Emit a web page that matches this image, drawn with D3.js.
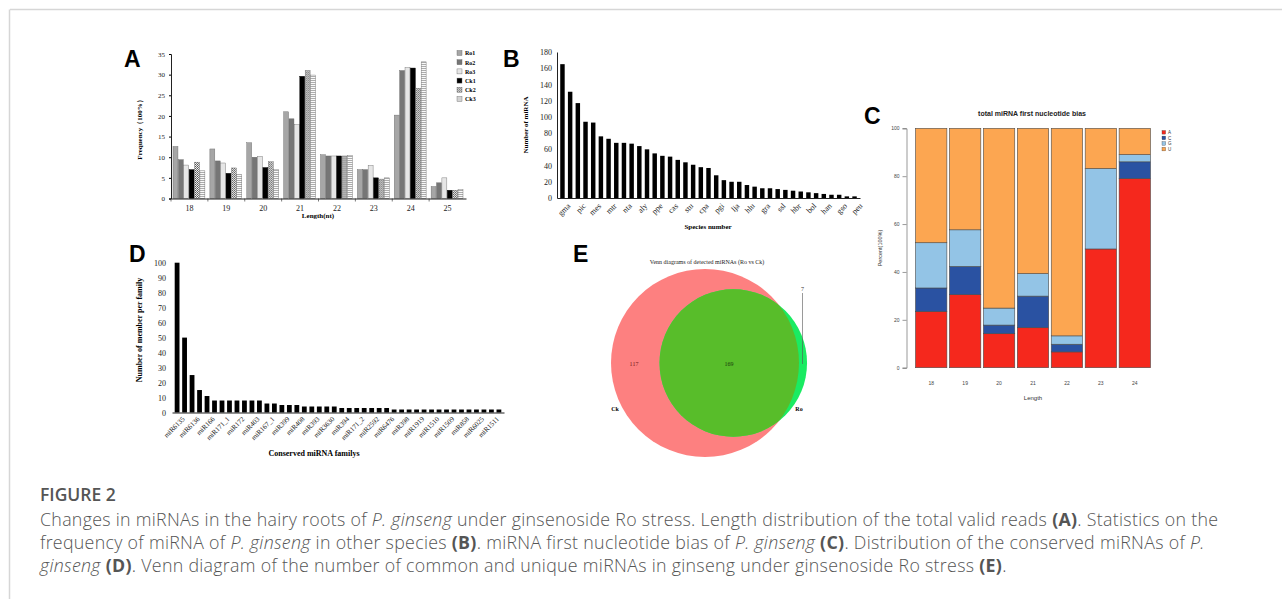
<!DOCTYPE html>
<html>
<head>
<meta charset="utf-8">
<script src="https://cdn.jsdelivr.net/npm/d3@7"></script>
<style>
  html, body { margin: 0; padding: 0; background: #fff; }
  svg { display: block; }
</style>
</head>
<body>
<div id="chart"></div>
<script>
var width  = 1282;
var height = 599;

// ---- data ----
// A: length distribution
var lengthsA = ["18", "19", "20", "21", "22", "23", "24", "25"];
var samplesA = ["Ro1", "Ro2", "Ro3", "Ck1", "Ck2", "Ck3"];
var ro1 = [12.6, 12.0, 13.5, 21.0, 10.6, 7.0, 20.2, 2.9];
var ro2 = [9.4, 9.1, 10.0, 19.3, 10.3, 7.0, 31.0, 3.8];
var ro3 = [8.1, 8.6, 10.2, 17.9, 10.3, 8.0, 31.7, 5.0];
var ck1 = [7.0, 6.1, 7.5, 29.6, 10.3, 5.0, 31.6, 2.0];
var ck2 = [8.8, 7.4, 8.9, 31.0, 10.3, 4.7, 26.7, 2.0];
var ck3 = [6.7, 5.8, 7.0, 29.9, 10.4, 5.0, 33.1, 2.2];
var ticksA = [0, 5, 10, 15, 20, 25, 30, 35];

// B: miRNA per species (only every other species is labelled)
var speciesLabels = ["gma", "pic", "mes", "mtr", "nta", "aly", "ppe", "cas", "stu", "cpa",
                     "pgi", "lja", "hlu", "gra", "ssl", "hbr", "bol", "han", "gso", "peu"];
var speciesCounts = [165, 131, 117, 94, 93, 76, 73, 68, 68, 67, 64, 60, 55, 52, 51, 47, 44, 41, 38, 37,
                     28, 22, 20, 20, 16, 14, 12, 12, 11, 10, 9, 8, 7, 6, 5, 4, 4, 2, 2];
var ticksB = [0, 20, 40, 60, 80, 100, 120, 140, 160, 180];

// C: first nucleotide bias
var lengthsC = ["18", "19", "20", "21", "22", "23", "24"];
var nucleotides = ["A", "C", "G", "U"];
var pctA = [23.5, 30.5, 14.2, 16.7, 6.6, 49.6, 79.0];
var pctC = [9.8, 11.8, 3.6, 13.2, 3.2, 0, 7.0];
var pctG = [18.9, 15.3, 7.1, 9.4, 3.5, 33.6, 3.0];
var pctU = [47.8, 42.4, 75.1, 60.7, 86.7, 16.8, 11.0];
var ticksC = [0, 20, 40, 60, 80, 100];

// D: conserved families (every other family labelled)
var familyLabels = ["miR6135", "miR6136", "miR166", "miR171_1", "miR172", "miR403", "miR167_1",
                    "miR399", "miR408", "miR393", "miR3630", "miR394", "miR171_2", "miR2592",
                    "miR6476", "miR398", "miR1919", "miR1510", "miR1509", "miR858", "miR6025", "miR1511"];
var familyCounts = [100, 50, 25, 15, 11, 8, 8, 8, 8, 8, 8, 8, 6, 6, 5, 5, 5, 4, 4, 4, 4, 4,
                    3, 3, 3, 3, 3, 3, 3, 2, 2, 2, 2, 2, 2, 2, 2, 2, 2, 2, 2, 2, 2, 2];
var ticksD = [0, 10, 20, 30, 40, 50, 60, 70, 80, 90, 100];

// E: venn
var vennSets = ["Ck", "Ro"];
var onlyCk = 117, shared = 169, onlyRo = 7;

var serif = "'Liberation Serif', 'Times New Roman', serif";
var sans  = "'Liberation Sans', Arial, sans-serif";

var svg = d3.select("#chart")
    .append("svg")
    .attr("width", width)
    .attr("height", height);

var defs = svg.append("defs");

// frame
svg.append("line").attr("x1", 10).attr("y1", 9.5).attr("x2", width).attr("y2", 9.5)
  .attr("stroke", "#d6d6d6").attr("stroke-width", 1.5);
svg.append("line").attr("x1", 9.5).attr("y1", 9.5).attr("x2", 9.5).attr("y2", height)
  .attr("stroke", "#d6d6d6").attr("stroke-width", 1.5);

function panelLetter(txt, x, y) {
  svg.append("text").attr("x", x).attr("y", y).text(txt)
    .style("font-family", sans).style("font-weight", "bold").style("font-size", "23px")
    .attr("fill", "#000");
}

drawA();
drawB();
drawC();
drawD();
drawE();
drawCaption();

function drawA() {
  panelLetter("A", 124, 67);

  // patterns for Ck2 / Ck3
  var p1 = defs.append("pattern").attr("id", "checker").attr("width", 2).attr("height", 2)
    .attr("patternUnits", "userSpaceOnUse");
  p1.append("rect").attr("width", 2).attr("height", 2).attr("fill", "#eee");
  p1.append("rect").attr("width", 1).attr("height", 1).attr("fill", "#555");
  p1.append("rect").attr("x", 1).attr("y", 1).attr("width", 1).attr("height", 1).attr("fill", "#777");
  var p2 = defs.append("pattern").attr("id", "hstripe").attr("width", 3).attr("height", 2)
    .attr("patternUnits", "userSpaceOnUse");
  p2.append("rect").attr("width", 3).attr("height", 2).attr("fill", "#fafafa");
  p2.append("rect").attr("width", 3).attr("height", 0.8).attr("fill", "#999");

  var fills = {Ro1: "#a6a6a6", Ro2: "#767676", Ro3: "#e6e6e6", Ck1: "#000", Ck2: "url(#checker)", Ck3: "url(#hstripe)"};
  var series = {Ro1: ro1, Ro2: ro2, Ro3: ro3, Ck1: ck1, Ck2: ck2, Ck3: ck3};

  var x = d3.scaleBand().domain(lengthsA).range([171, 466]);
  var xs = d3.scaleBand().domain(samplesA).range([2, x.bandwidth() - 3]).paddingInner(0.08);
  var y = d3.scaleLinear().domain([0, 35]).range([198.5, 54]);

  var g = svg.append("g");

  var groups = g.selectAll("g.grp").data(lengthsA).enter().append("g")
    .attr("transform", function(d) { return "translate(" + x(d) + ",0)"; });

  groups.selectAll("rect")
    .data(function(d, i) { return samplesA.map(function(s) { return {s: s, v: series[s][i]}; }); })
    .enter().append("rect")
    .attr("x", function(d) { return xs(d.s); })
    .attr("y", function(d) { return y(d.v); })
    .attr("width", xs.bandwidth())
    .attr("height", function(d) { return y(0) - y(d.v); })
    .attr("fill", function(d) { return fills[d.s]; })
    .attr("stroke", function(d) { return d.s == "Ck1" ? "#000" : "#666"; })
    .attr("stroke-width", 0.4);

  var ya = g.append("g").attr("transform", "translate(171,0)")
    .call(d3.axisLeft(y).tickValues(ticksA).tickSize(2).tickPadding(4));
  ya.selectAll("text").style("font-family", serif).style("font-size", "7px").attr("fill", "#222");
  ya.select(".domain").attr("stroke", "#222");

  var xa = g.append("g").attr("transform", "translate(0,198.5)")
    .call(d3.axisBottom(x).tickSize(0).tickPadding(7));
  xa.selectAll("text").style("font-family", serif).style("font-size", "8px").attr("fill", "#222");
  xa.select(".domain").attr("stroke", "#222");
  // separator ticks between groups
  g.selectAll("line.sep").data(lengthsA).enter().append("line")
    .attr("x1", function(d) { return x(d); }).attr("x2", function(d) { return x(d); })
    .attr("y1", 198.5).attr("y2", 201.5).attr("stroke", "#222").attr("stroke-width", 0.6);

  g.append("text").attr("transform", "translate(142,128) rotate(-90)")
    .attr("text-anchor", "middle").text("Frequency（100%）")
    .style("font-family", serif).style("font-weight", "bold").style("font-size", "7px");
  g.append("text").attr("x", 318).attr("y", 218).attr("text-anchor", "middle").text("Length(nt)")
    .style("font-family", serif).style("font-weight", "bold").style("font-size", "7px");

  var leg = g.selectAll("g.leg").data(samplesA).enter().append("g")
    .attr("transform", function(d, i) { return "translate(457," + (50.5 + i * 9.2) + ")"; });
  leg.append("rect").attr("width", 5).attr("height", 5)
    .attr("fill", function(d) { return fills[d]; }).attr("stroke", "#666").attr("stroke-width", 0.4);
  leg.append("text").attr("x", 8).attr("y", 4.8).text(function(d) { return d; })
    .style("font-family", serif).style("font-weight", "bold").style("font-size", "6px");
}

function drawB() {
  panelLetter("B", 503, 67);

  var idx = d3.range(speciesCounts.length);
  var x = d3.scaleBand().domain(idx).range([557, 860]).padding(0.42);
  var y = d3.scaleLinear().domain([0, 180]).range([198, 52]);
  var g = svg.append("g");

  g.selectAll("rect").data(speciesCounts).enter().append("rect")
    .attr("x", function(d, i) { return x(i); })
    .attr("y", function(d) { return y(d); })
    .attr("width", x.bandwidth())
    .attr("height", function(d) { return y(0) - y(d); })
    .attr("fill", "#000");

  var ya = g.append("g").attr("transform", "translate(557,0)")
    .call(d3.axisLeft(y).tickValues(ticksB).tickSize(0).tickPadding(5));
  ya.selectAll("text").style("font-family", serif).style("font-size", "8px").attr("fill", "#222");
  ya.select(".domain").attr("stroke", "#222");

  var xa = g.append("g").attr("transform", "translate(0,198)")
    .call(d3.axisBottom(x).tickValues(idx.filter(function(i) { return i % 2 == 0; }))
      .tickSize(0).tickFormat(function(i) { return speciesLabels[i / 2]; }));
  xa.select(".domain").attr("stroke", "#222");
  xa.selectAll("text")
    .style("font-family", serif).style("font-size", "8px").attr("fill", "#222")
    .attr("text-anchor", "end")
    .attr("transform", "translate(3,3) rotate(-45)")
    .attr("dy", "0.6em");

  g.append("text").attr("transform", "translate(528,125) rotate(-90)")
    .attr("text-anchor", "middle").text("Number of miRNA")
    .style("font-family", serif).style("font-weight", "bold").style("font-size", "7px");
  g.append("text").attr("x", 708).attr("y", 229).attr("text-anchor", "middle").text("Species number")
    .style("font-family", serif).style("font-weight", "bold").style("font-size", "7px");
}

function drawC() {
  panelLetter("C", 864, 124);

  var colors = {A: "#f5281d", C: "#2a52a2", G: "#93c4e6", U: "#fca651"};
  var table = lengthsC.map(function(l, i) {
    return {len: l, A: pctA[i], C: pctC[i], G: pctG[i], U: pctU[i]};
  });
  var stacked = d3.stack().keys(nucleotides)(table);

  var x = d3.scaleBand().domain(lengthsC).range([915.5, 1150.5]).paddingInner(0.075);
  var y = d3.scaleLinear().domain([0, 100]).range([367.7, 128.3]);
  var g = svg.append("g");

  g.selectAll("g.layer").data(stacked).enter().append("g")
    .attr("fill", function(d) { return colors[d.key]; })
    .selectAll("rect").data(function(d) { return d; }).enter().append("rect")
    .attr("x", function(d) { return x(d.data.len); })
    .attr("y", function(d) { return y(d[1]); })
    .attr("width", x.bandwidth())
    .attr("height", function(d) { return y(d[0]) - y(d[1]); })
    .attr("stroke", "#4a4a4a").attr("stroke-width", 0.6);

  var ya = g.append("g").attr("transform", "translate(906.5,0)")
    .call(d3.axisLeft(y).tickValues(ticksC).tickSize(4).tickPadding(3));
  ya.selectAll("text").style("font-family", sans).style("font-size", "5px").attr("fill", "#444");
  ya.selectAll("line, .domain").attr("stroke", "#555").attr("stroke-width", 0.6);

  var xa = g.append("g").attr("transform", "translate(0,378)")
    .call(d3.axisBottom(x).tickSize(0).tickPadding(3));
  xa.select(".domain").remove();
  xa.selectAll("text").style("font-family", sans).style("font-size", "5px").attr("fill", "#444");

  g.append("text").attr("x", 1032).attr("y", 116).attr("text-anchor", "middle")
    .text("total miRNA first nucleotide bias")
    .style("font-family", sans).style("font-weight", "bold").style("font-size", "7px").attr("fill", "#222");
  g.append("text").attr("x", 1033).attr("y", 400).attr("text-anchor", "middle").text("Length")
    .style("font-family", sans).style("font-size", "6px").attr("fill", "#333");
  g.append("text").attr("transform", "translate(882,248) rotate(-90)")
    .attr("text-anchor", "middle").text("Percent(100%)")
    .style("font-family", sans).style("font-size", "5.5px").attr("fill", "#333");

  var leg = g.selectAll("g.leg").data(nucleotides).enter().append("g")
    .attr("transform", function(d, i) { return "translate(1162," + (130.5 + i * 5.6) + ")"; });
  leg.append("rect").attr("width", 3.6).attr("height", 3.6)
    .attr("fill", function(d) { return colors[d]; }).attr("stroke", "#333").attr("stroke-width", 0.3);
  leg.append("text").attr("x", 6).attr("y", 3.5).text(function(d) { return d; })
    .style("font-family", sans).style("font-size", "4.5px").attr("fill", "#333");
}

function drawD() {
  panelLetter("D", 129, 262);

  var idx = d3.range(familyCounts.length);
  var x = d3.scaleBand().domain(idx).range([172, 504]).padding(0.36);
  var y = d3.scaleLinear().domain([0, 100]).range([412.5, 262.7]);
  var g = svg.append("g");

  g.selectAll("rect").data(familyCounts).enter().append("rect")
    .attr("x", function(d, i) { return x(i); })
    .attr("y", function(d) { return y(d); })
    .attr("width", x.bandwidth())
    .attr("height", function(d) { return y(0) - y(d); })
    .attr("fill", "#000");

  var ya = g.append("g").attr("transform", "translate(172,0)")
    .call(d3.axisLeft(y).tickValues(ticksD).tickSize(0).tickPadding(6));
  ya.selectAll("text").style("font-family", serif).style("font-size", "8px").attr("fill", "#222");
  ya.select(".domain").remove();

  var xa = g.append("g").attr("transform", "translate(0,412.5)")
    .call(d3.axisBottom(x).tickValues(idx.filter(function(i) { return i % 2 == 0; }))
      .tickSize(0).tickFormat(function(i) { return familyLabels[i / 2]; }));
  xa.select(".domain").attr("stroke", "#222").attr("stroke-width", 1.2);
  xa.selectAll("text")
    .style("font-family", serif).style("font-size", "7px").attr("fill", "#222")
    .attr("text-anchor", "end")
    .attr("transform", "translate(3,2) rotate(-45)")
    .attr("dy", "0.6em");

  g.append("text").attr("transform", "translate(142,330) rotate(-90)")
    .attr("text-anchor", "middle").text("Number of member per family")
    .style("font-family", serif).style("font-weight", "bold").style("font-size", "8px");
  g.append("text").attr("x", 314).attr("y", 456).attr("text-anchor", "middle").text("Conserved miRNA familys")
    .style("font-family", serif).style("font-weight", "bold").style("font-size", "8px");
}

function lensArea(r1, r2, d) {
  if (d >= r1 + r2) return 0;
  if (d <= Math.abs(r1 - r2)) return Math.PI * Math.min(r1, r2) * Math.min(r1, r2);
  var a1 = r1 * r1 * Math.acos((d * d + r1 * r1 - r2 * r2) / (2 * d * r1));
  var a2 = r2 * r2 * Math.acos((d * d + r2 * r2 - r1 * r1) / (2 * d * r2));
  var a3 = 0.5 * Math.sqrt((-d + r1 + r2) * (d + r1 - r2) * (d - r1 + r2) * (d + r1 + r2));
  return a1 + a2 - a3;
}

function drawE() {
  panelLetter("E", 573, 262);

  var totalCk = onlyCk + shared, totalRo = onlyRo + shared;
  var r = d3.scaleSqrt().domain([0, totalCk]).range([0, 94]);
  var r1 = r(totalCk), r2 = r(totalRo);
  var target = Math.PI * r(shared) * r(shared);
  // find centre distance so overlap area matches the shared count
  var lo = Math.abs(r1 - r2), hi = r1 + r2;
  for (var k = 0; k < 60; k++) {
    var mid = (lo + hi) / 2;
    if (lensArea(r1, r2, mid) > target) lo = mid; else hi = mid;
  }
  var dist = (lo + hi) / 2;
  var cx1 = 705, cy = 363, cx2 = cx1 + dist;

  var g = svg.append("g");
  defs.append("clipPath").attr("id", "ckclip")
    .append("circle").attr("cx", cx1).attr("cy", cy).attr("r", r1);

  g.append("circle").attr("cx", cx1).attr("cy", cy).attr("r", r1).attr("fill", "#fd8080");
  g.append("circle").attr("cx", cx2).attr("cy", cy).attr("r", r2).attr("fill", "#1aeb62");
  g.append("circle").attr("cx", cx2).attr("cy", cy).attr("r", r2).attr("fill", "#58bd2a")
    .attr("clip-path", "url(#ckclip)");

  g.append("text").attr("x", 707).attr("y", 264).attr("text-anchor", "middle")
    .text("Venn diagrams of detected miRNAs (Ro vs Ck)")
    .style("font-family", serif).style("font-size", "6px").attr("fill", "#222");

  g.append("text").attr("x", 634).attr("y", 366).attr("text-anchor", "middle").text(onlyCk)
    .style("font-family", serif).style("font-size", "6px").attr("fill", "#7a1a1a");
  g.append("text").attr("x", 729).attr("y", 366).attr("text-anchor", "middle").text(shared)
    .style("font-family", serif).style("font-size", "6px").attr("fill", "#1a3a0a");
  g.append("text").attr("x", 802.5).attr("y", 291).attr("text-anchor", "middle").text(onlyRo)
    .style("font-family", serif).style("font-size", "6px").attr("fill", "#333");
  g.append("line").attr("x1", 802.5).attr("x2", 802.5).attr("y1", 293).attr("y2", 364)
    .attr("stroke", "#555").attr("stroke-width", 0.6);

  g.append("text").attr("x", 615).attr("y", 411).attr("text-anchor", "middle").text(vennSets[0])
    .style("font-family", serif).style("font-weight", "bold").style("font-size", "6px");
  g.append("text").attr("x", 799).attr("y", 411).attr("text-anchor", "middle").text(vennSets[1])
    .style("font-family", serif).style("font-weight", "bold").style("font-size", "6px");
}

function drawCaption() {
  var capFont = "'Open Sans', 'Noto Sans', sans-serif";
  var capX = 40;
  svg.append("text").attr("x", capX).attr("y", 501).text("FIGURE 2")
    .style("font-family", capFont).style("font-size", "17.5px").style("font-weight", "600")
    .attr("fill", "#555");

  var lines = [
    [["Changes in miRNAs in the hairy roots of ", ""], ["P. ginseng", "i"],
     [" under ginsenoside Ro stress. Length distribution of the total valid reads ", ""], ["(A)", "b"],
     [". Statistics on the", ""]],
    [["frequency of miRNA of ", ""], ["P. ginseng", "i"], [" in other species ", ""], ["(B)", "b"],
     [". miRNA first nucleotide bias of ", ""], ["P. ginseng", "i"], [" ", ""], ["(C)", "b"],
     [". Distribution of the conserved miRNAs of ", ""], ["P.", "i"]],
    [["ginseng", "i"], [" ", ""], ["(D)", "b"],
     [". Venn diagram of the number of common and unique miRNAs in ginseng under ginsenoside Ro stress ", ""],
     ["(E)", "b"], [".", ""]]
  ];

  lines.forEach(function(parts, li) {
    var t = svg.append("text").attr("x", capX).attr("y", 526 + li * 23)
      .style("font-family", capFont).style("font-size", "17.8px").style("font-weight", "300")
      .style("letter-spacing", "0.3px")
      .attr("fill", "#555");
    parts.forEach(function(p) {
      t.append("tspan").text(p[0])
        .style("font-style", p[1] == "i" ? "italic" : "normal")
        .style("font-weight", p[1] == "b" ? "700" : "300");
    });
  });
}
</script>
</body>
</html>
